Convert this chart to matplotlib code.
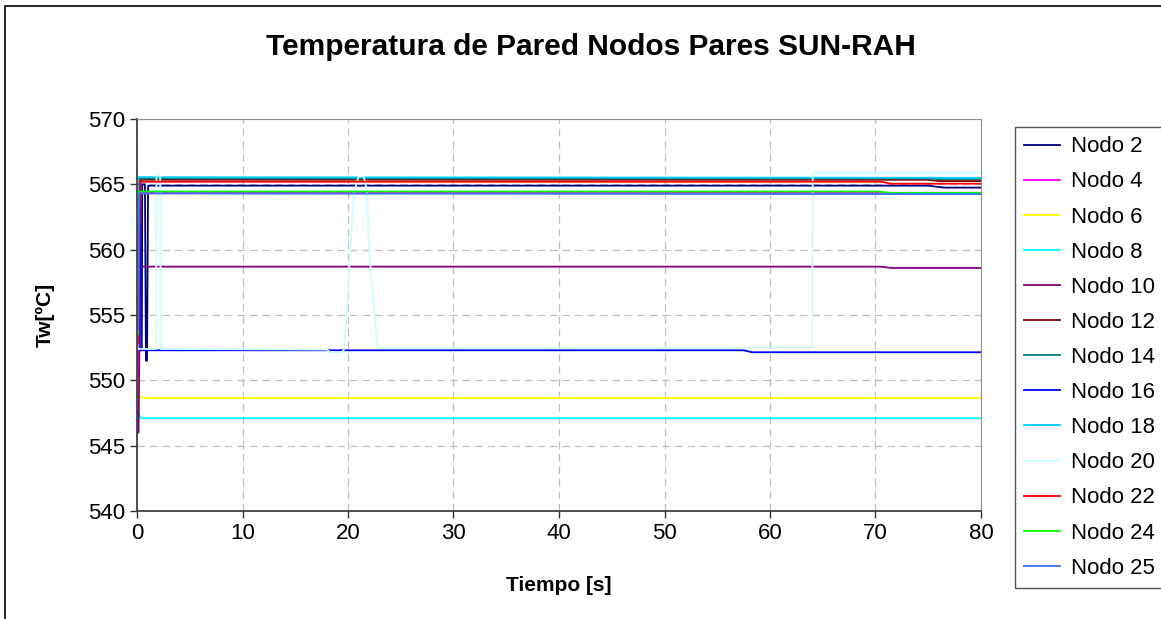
import matplotlib.pyplot as plt
from matplotlib.patches import Rectangle

plt.rcParams['font.family'] = ['Liberation Sans', 'DejaVu Sans']

# Series (time [s], wall temperature [ºC])
t_n2 = [0, 0.15, 0.2, 0.45, 0.5, 0.75, 0.85, 0.95, 1.05, 75.0, 76.5, 80]
v_n2 = [565.0, 565.0, 552.3, 552.3, 565.0, 565.0, 551.5, 551.5, 564.9, 564.9, 564.75, 564.75]

t_n4 = [0, 0.1, 0.25, 80]
v_n4 = [552.5, 546.3, 564.35, 564.35]

t_n6 = [0, 0.1, 0.2, 0.3, 0.5, 80]
v_n6 = [550.6, 549.8, 548.95, 548.75, 548.65, 548.65]

t_n8 = [0, 0.1, 0.2, 0.3, 0.5, 80]
v_n8 = [548.9, 548.2, 547.4, 547.18, 547.1, 547.1]

t_n10 = [0, 0.15, 0.3, 70.5, 71.5, 80]
v_n10 = [546.0, 546.0, 558.7, 558.7, 558.6, 558.6]

t_n12 = [0, 0.1, 0.3, 75.0, 76.0, 80]
v_n12 = [553.0, 553.0, 565.35, 565.35, 565.25, 565.25]

t_n14 = [0, 75.0, 76.0, 80]
v_n14 = [565.45, 565.45, 565.4, 565.4]

t_n16 = [0, 0.35, 0.4, 57.5, 58.3, 80]
v_n16 = [565.1, 565.1, 552.3, 552.3, 552.15, 552.15]

t_n18 = [0, 0.05, 0.1, 80]
v_n18 = [552.4, 552.4, 565.55, 565.5]

t_n20 = [0, 0.05, 1.8, 1.85, 2.2, 2.25, 18.0, 18.3, 19.4, 19.6, 19.9, 20.2, 20.6,
         21.0, 21.5, 21.8, 22.0, 22.5, 22.8, 64.0, 64.05, 80]
v_n20 = [565.7, 552.4, 552.4, 565.7, 565.7, 552.4, 552.35, 552.15, 552.15, 552.3, 555.2,
         560.0, 564.5, 565.6, 565.6, 564.5, 560.0, 555.2, 552.5, 552.5, 565.9, 565.9]

t_n22 = [0, 0.1, 0.3, 70.5, 71.5, 80]
v_n22 = [552.8, 552.8, 565.2, 565.2, 565.05, 565.05]

t_n24 = [0, 0.1, 0.15, 70.3, 71.3, 80]
v_n24 = [553.5, 553.5, 564.45, 564.45, 564.35, 564.35]

t_n25 = [0, 0.12, 0.2, 80]
v_n25 = [553.9, 553.9, 564.3, 564.25]

series = [
    ("Nodo 2", t_n2, v_n2, "#000080"),
    ("Nodo 4", t_n4, v_n4, "#FF00FF"),
    ("Nodo 6", t_n6, v_n6, "#FFFF00"),
    ("Nodo 8", t_n8, v_n8, "#00FFFF"),
    ("Nodo 10", t_n10, v_n10, "#800080"),
    ("Nodo 12", t_n12, v_n12, "#800000"),
    ("Nodo 14", t_n14, v_n14, "#008080"),
    ("Nodo 16", t_n16, v_n16, "#0000FF"),
    ("Nodo 18", t_n18, v_n18, "#00CCFF"),
    ("Nodo 20", t_n20, v_n20, "#CCFFFF"),
    ("Nodo 22", t_n22, v_n22, "#FF0000"),
    ("Nodo 24", t_n24, v_n24, "#00FF00"),
    ("Nodo 25", t_n25, v_n25, "#3F6FF0"),
]

fig = plt.figure(figsize=(11.61, 6.19), dpi=100)
ax = fig.add_axes([137 / 1161, 1 - 511 / 619, 844 / 1161, 392 / 619])

for label, t, v, c in series:
    ax.plot(t, v, color=c, linewidth=1.3, label=label)

ax.set_xlim(0, 80)
ax.set_ylim(540, 570)
ax.set_xticks(range(0, 81, 10))
ax.set_yticks(range(540, 571, 5))
ax.tick_params(labelsize=16, direction='out', length=5, width=1, color='#333333')
ax.grid(True, linestyle=(0, (6, 4)), color='#c0c0c0', linewidth=0.9)
ax.set_axisbelow(True)
for side in ['top', 'right']:
    ax.spines[side].set_color('#909090')
for side in ['left', 'bottom']:
    ax.spines[side].set_color('#404040')
    ax.spines[side].set_linewidth(1.3)

ax.set_xlabel("Tiempo [s]", fontsize=15, fontweight='bold', labelpad=23)
ax.set_ylabel("Tw[ºC]", fontsize=15, fontweight='bold', labelpad=24)
fig.text(591 / 1161, 1 - 47 / 619, "Temperatura de Pared Nodos Pares SUN-RAH",
         fontsize=21.5, fontweight='bold', ha='center', va='center')

leg = fig.legend(loc='upper left', bbox_to_anchor=(1015 / 1161, 1 - 127 / 619),
                 fontsize=16, frameon=True, fancybox=False, framealpha=1,
                 edgecolor='#555555', handlelength=1.6, handletextpad=0.5,
                 labelspacing=0.635, borderpad=0.42, borderaxespad=0)
leg.get_frame().set_linewidth(1.0)

# outer chart frame
fig.patches.append(Rectangle((5 / 1161, -0.05), 1.2, 1 - 6 / 619 + 0.05,
                             transform=fig.transFigure, fill=False,
                             edgecolor='black', linewidth=1.2, zorder=-1))

fig.savefig("out.png", dpi=100)
